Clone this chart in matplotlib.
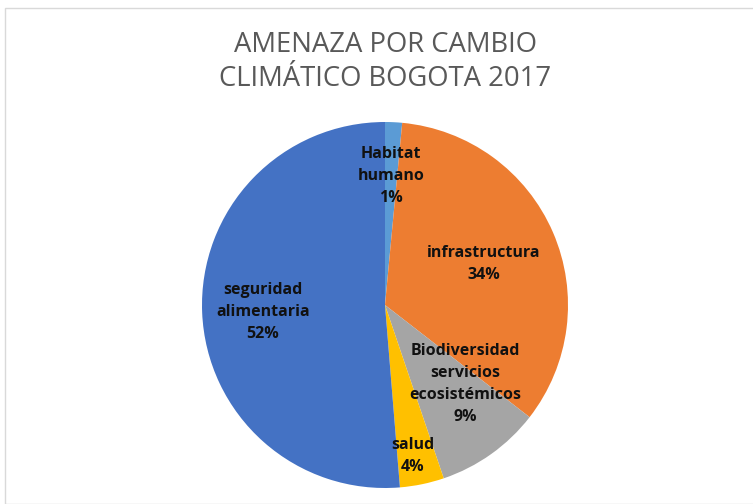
import numpy as np
import matplotlib.pyplot as plt
from matplotlib.patches import Rectangle

categorias = ['Habitat\nhumano', 'infrastructura', 'Biodiversidad\nservicios\necosistémicos', 'salud', 'seguridad\nalimentaria']
valores = [1.5, 34.0, 9.3, 3.9, 51.3]
porcentajes = ['1%', '34%', '9%', '4%', '52%']
colores = ['#5B9BD5', '#ED7D31', '#A5A5A5', '#FFC000', '#4472C4']

# posiciones de las etiquetas en pixeles (centro del texto)
pos_px = [(391, 176), (484, 264), (465, 384), (413, 456), (263, 312)]

W, H = 753, 504
fig = plt.figure(figsize=(W / 100, H / 100), dpi=100)
fig.patch.set_facecolor('white')

# marco del grafico
fig.patches.append(Rectangle((4.5 / W, 0), 1, 1 - 7.5 / H, transform=fig.transFigure,
                             fill=False, edgecolor='#D9D9D9', linewidth=1.0))

cx, cy, r = 385, 305, 183
ax = fig.add_axes([(cx - r) / W, (H - cy - r) / H, 2 * r / W, 2 * r / H])
ax.pie(valores, colors=colores, startangle=90, counterclock=False, radius=1,
       wedgeprops=dict(linewidth=0))
ax.set_xlim(-1, 1)
ax.set_ylim(-1, 1)
ax.set_aspect('equal')
ax.axis('off')

for cat, pct, (px, py) in zip(categorias, porcentajes, pos_px):
    x = (px - cx) / r
    y = (cy - py) / r
    ax.text(x, y, cat + '\n' + pct, ha='center', va='center', fontsize=11.5,
            fontweight='bold', color='#111111', family='Open Sans', linespacing=1.5)

fig.text(385 / W, 1 - 62 / H, 'AMENAZA POR CAMBIO\nCLIMÁTICO BOGOTA 2017', ha='center', va='center',
         fontsize=19.8, color='#595959', family='Open Sans', linespacing=1.28)

fig.savefig('out.png', dpi=100)
